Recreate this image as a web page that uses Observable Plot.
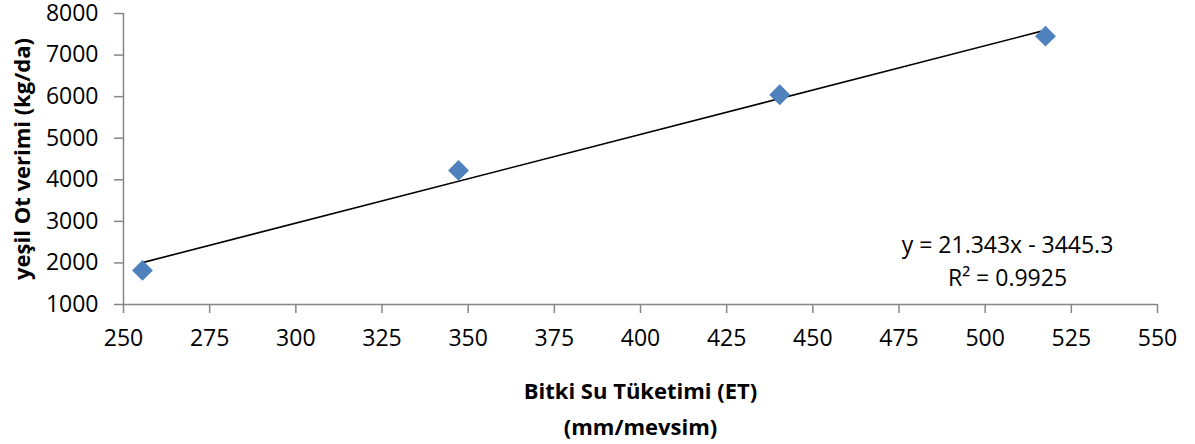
<!DOCTYPE html>
<html><head><meta charset="utf-8">
<script src="https://cdn.jsdelivr.net/npm/d3@7"></script>
<script src="https://cdn.jsdelivr.net/npm/@observablehq/plot@0.6"></script>
<style>
body{margin:0;background:#fff} svg{display:block}
#chart svg g[aria-label="x-axis tick label"] text, #chart svg g[aria-label="y-axis tick label"] text { font-size: 23px; }
#chart svg .eq text { font-size: 23px; }
#chart svg .ttl text { font-size: 22px; font-weight: bold; }
</style>
</head><body><div id="chart"></div>
<script>
const etValues = [255.5, 347.2, 440.4, 517.5];
const yieldValues = [1820, 4225, 6045, 7455];
const xTicks = [250, 275, 300, 325, 350, 375, 400, 425, 450, 475, 500, 525, 550];
const yTicks = [1000, 2000, 3000, 4000, 5000, 6000, 7000, 8000];
const slope = 21.343, intercept = -3445.3;
const eqLabel = "y = 21.343x - 3445.3";
const r2Label = "R² = 0.9925";
const xTitle = ["Bitki Su Tüketimi (ET)", "(mm/mevsim)"];
const yTitle = "yeşil Ot verimi (kg/da)";

const points = etValues.map((x, i) => ({x, y: yieldValues[i]}));
const xMin = d3.min(etValues), xMax = d3.max(etValues);
const trend = [xMin, xMax].map(x => ({x, y: slope * x + intercept}));

const gray = "#868686";

const chart = Plot.plot({
  width: 1195, height: 444,
  marginLeft: 123, marginRight: 38, marginTop: 13, marginBottom: 140,
  style: {fontFamily: "'Open Sans', sans-serif", fontSize: "22px", color: "black", background: "white"},
  x: {domain: [250, 550], ticks: xTicks},
  y: {domain: [1000, 8000], ticks: yTicks},
  marks: [
    Plot.axisX({ticks: xTicks, tickFormat: d => String(d), tickSize: 9, tickPadding: 16, stroke: gray, strokeWidth: 1.5, fill: "black", label: null, strokeOpacity: 1}),
    Plot.axisY({ticks: yTicks, tickFormat: d => String(d), tickSize: 9, tickPadding: 16, stroke: gray, strokeWidth: 1.5, fill: "black", label: null, strokeOpacity: 1}),
    Plot.ruleY([1000], {stroke: gray, strokeWidth: 1.5}),
    Plot.ruleX([250], {stroke: gray, strokeWidth: 1.5}),
    Plot.line(trend, {x: "x", y: "y", stroke: "black", strokeWidth: 1.6}),
    Plot.dot(points, {x: "x", y: "y", symbol: "diamond2", r: 9.4, fill: "#4F81BD", stroke: "none"}),
    Plot.text([eqLabel], {className: "eq", frameAnchor: "bottom-right", textAnchor: "middle", dx: -150, dy: -52, fill: "black"}),
    Plot.text([r2Label], {className: "eq", frameAnchor: "bottom-right", textAnchor: "middle", dx: -150, dy: -19, fill: "black"}),
    Plot.text([xTitle[0]], {className: "ttl", frameAnchor: "bottom", textAnchor: "middle", dy: 94, fill: "black"}),
    Plot.text([xTitle[1]], {className: "ttl", frameAnchor: "bottom", textAnchor: "middle", dy: 130, fill: "black"}),
    Plot.text([yTitle], {className: "ttl", frameAnchor: "left", textAnchor: "middle", rotate: -90, dx: -101, fill: "black"})
  ]
});
document.getElementById("chart").appendChild(chart);
</script>
</body></html>
